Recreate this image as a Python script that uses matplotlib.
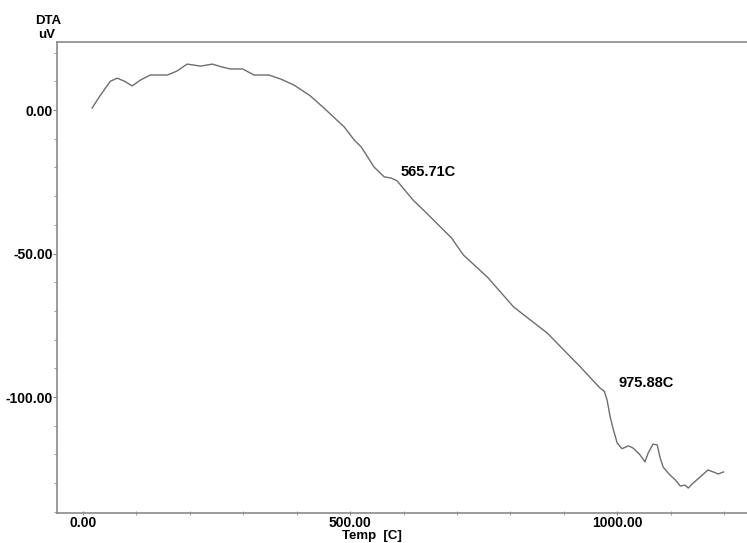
import matplotlib
matplotlib.use("Agg")
import matplotlib.pyplot as plt
from matplotlib.ticker import MultipleLocator

plt.rcParams['font.family'] = ['Liberation Sans', 'DejaVu Sans']

temp = [17, 32, 51, 64, 78, 92, 108, 126, 158, 175, 195, 220, 242, 260, 276, 299,
        320, 348, 370, 395, 425, 451, 489, 508, 521, 545, 564, 577, 588, 618, 637,
        656, 690, 712, 757, 806, 869, 931, 968, 975.88, 981, 987, 993, 1000, 1009,
        1021, 1030, 1043, 1052, 1058, 1067, 1075, 1080, 1086, 1099, 1109, 1118,
        1127, 1133, 1142, 1155, 1170, 1180, 1189, 1199]
dta = [0.7, 5, 10, 11.1, 10, 8.4, 10.5, 12.2, 12.2, 13.5, 16, 15.3, 16, 15, 14.3, 14.3,
       12.2, 12.2, 10.8, 8.7, 5, 0.7, -5.9, -10.5, -12.9, -19.9, -23.3, -23.7, -24.7,
       -31.4, -34.8, -38.3, -44.6, -50.5, -58.2, -68.6, -77.7, -89.5, -96.9, -98,
       -101, -107, -111.5, -116, -118, -117, -117.8, -120.2, -122.6, -119.5, -116.4,
       -116.7, -120.9, -124.4, -127.2, -128.9, -131, -130.7, -131.7, -130, -127.9,
       -125.4, -126.1, -126.8, -126.1]

peak_labels = ["565.71C", "975.88C"]
peak_pos = [(595, -21.6), (1002, -95.1)]

x_ticks = [0, 500, 1000]
x_ticklabels = ["0.00", "500.00", "1000.00"]
y_ticks = [0, -50, -100]
y_ticklabels = ["0.00", "-50.00", "-100.00"]

fig = plt.figure(figsize=(7.47, 5.43), dpi=100)
ax = fig.add_axes([57/747, 1 - 513/543, 1 - 57/747, (513 - 42)/543])

ax.plot(temp, dta, color='#6e6e6e', lw=1.0)

ax.set_xlim(-48.7, 1243)
ax.set_ylim(-140.4, 23.7)

spine_c = '#8a8a8a'
for s in ['left', 'bottom', 'top']:
    ax.spines[s].set_color(spine_c)
    ax.spines[s].set_linewidth(1.2)
ax.spines['right'].set_visible(False)

ax.set_xticks(x_ticks)
ax.set_xticklabels(x_ticklabels, fontsize=10, fontweight='bold')
ax.xaxis.set_minor_locator(MultipleLocator(100))
ax.set_yticks(y_ticks)
ax.set_yticklabels(y_ticklabels, fontsize=10, fontweight='bold')
ax.yaxis.set_minor_locator(MultipleLocator(10))

ax.tick_params(axis='x', which='both', direction='inout', length=3, color=spine_c, pad=1)
ax.tick_params(axis='y', which='major', direction='out', length=3, color=spine_c, pad=0)
ax.tick_params(axis='y', which='minor', direction='out', length=2, color=spine_c)
ax.tick_params(top=False, right=False, which='both')

for lab, (x, y) in zip(peak_labels, peak_pos):
    ax.text(x, y, lab, fontsize=10.5, fontweight='bold', ha='left', va='center')

fig.text(48/747, 1 - 21/543, "DTA", fontsize=9.5, fontweight='bold', ha='center', va='center')
fig.text(47/747, 1 - 35/543, "uV", fontsize=9.5, fontweight='bold', ha='center', va='center')
fig.text(372/747, 1 - 536/543, "Temp  [C]", fontsize=9.5, fontweight='bold', ha='center', va='center')

fig.savefig("out.png", dpi=100)
